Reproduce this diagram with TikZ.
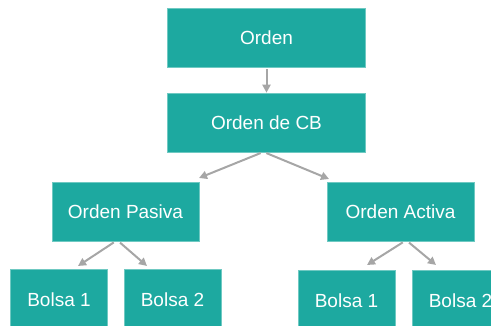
\documentclass[tikz,border=0pt]{standalone}
\usepackage{fontspec}
\setmainfont{Liberation Sans}
\usetikzlibrary{calc,arrows.meta,positioning}
\definecolor{boxteal}{HTML}{1DA9A0}
\definecolor{boxedge}{HTML}{6FC9C2}
\definecolor{arrowgray}{HTML}{A6A6A6}

\begin{document}
\begin{tikzpicture}[x=1pt, y=-1pt, font=\fontsize{19}{22}\selectfont]

\tikzset{
box/.style={rectangle,fill=boxteal,draw=boxedge,line width=0.6pt,text=white,inner sep=0pt,minimum height=59pt},
wide/.style={box,minimum width=198pt},
mid/.style={box,minimum width=147pt},
small/.style={box,minimum width=97pt,minimum height=62pt},
link/.style={-{Triangle[length=8pt,width=8pt]},line width=2pt,draw=arrowgray,shorten <=2pt}
}

\useasboundingbox (0,0) rectangle (491,326);
\clip (0,0) rectangle (491,326);

% Nodes
\node[wide] (orden) at (266.5,37.5) {Orden};
\node[wide] (ordcb) at (266.5,122.5) {Orden de CB};

\node[mid] (pasiva) at (125.5,211.5) {Orden Pasiva};
\node[mid] (activa) at (400.5,211.5) {Orden Activa};

\node[small] (bolsa1p) at (59,300) {Bolsa 1};
\node[small] (bolsa2p) at (172.5,300) {Bolsa 2};
\node[small] (bolsa1a) at (346.5,301) {Bolsa 1};
\node[small] (bolsa2a) at (460.5,301) {Bolsa 2};

% Arrow ends
\coordinate (endcbp) at (199,178);
\coordinate (endcba) at (329,179);
\coordinate (endp1) at (78,266);
\coordinate (endp2) at (147,266);
\coordinate (enda1) at (367,265);
\coordinate (enda2) at (436,265);

% Arrows
\draw[link] (orden.south) -- (ordcb.north);
\draw[link] ($(ordcb.south)+(-4,0)$) -- (endcbp);
\draw[link] ($(ordcb.south)+(-2,0)$) -- (endcba);
\draw[link] ($(pasiva.south)+(-10,0)$) -- (endp1);
\draw[link] ($(pasiva.south)+(-7,0)$) -- (endp2);
\draw[link] ($(activa.south)+(4,0)$) -- (enda1);
\draw[link] ($(activa.south)+(7,0)$) -- (enda2);

\end{tikzpicture}
\end{document}
